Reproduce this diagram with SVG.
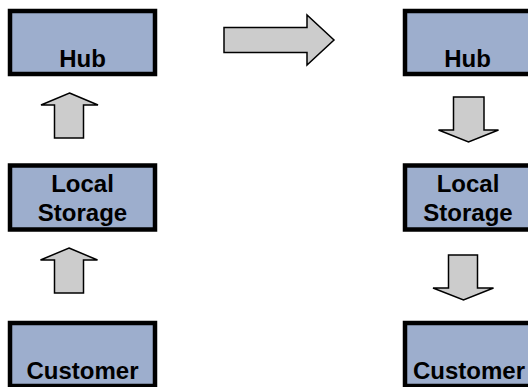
<svg xmlns="http://www.w3.org/2000/svg" width="528" height="387" viewBox="0 0 528 387">
<style>
.box{fill:#9DAECD;stroke:#000;stroke-width:4.5}
.arr{fill:#CCCCCC;stroke:#000;stroke-width:1.5;stroke-linejoin:miter}
.lbl{font-family:"Liberation Sans",Arial,sans-serif;font-weight:bold;font-size:24px;fill:#000;text-anchor:middle}
</style>
<rect width="528" height="387" fill="#fff"/>
<g id="hub-left"><rect class="box" x="10" y="11" width="145" height="63"/><text class="lbl" x="82.5" y="67">Hub</text></g>
<g id="local-left"><rect class="box" x="10" y="165.5" width="145" height="64"/><text class="lbl" x="82.5" y="192">Local</text><text class="lbl" x="82.5" y="221">Storage</text></g>
<g id="customer-left"><rect class="box" x="10" y="323" width="145" height="63"/><text class="lbl" x="82.5" y="379">Customer</text></g>
<g id="hub-right"><rect class="box" x="405" y="11" width="135" height="63"/><text class="lbl" x="467.5" y="67">Hub</text></g>
<g id="local-right"><rect class="box" x="405" y="165.5" width="135" height="64"/><text class="lbl" x="468" y="192">Local</text><text class="lbl" x="468" y="221">Storage</text></g>
<g id="customer-right"><rect class="box" x="405" y="323" width="135" height="63"/><text class="lbl" x="469" y="379">Customer</text></g>
<g id="connectors">
<polygon class="arr" points="69.5,93 98,105 83.5,105 83.5,138 54.5,138 54.5,105 41,105"/>
<polygon class="arr" points="69,248 97.5,260 83.5,260 83.5,293 54.5,293 54.5,260 40.5,260"/>
<polygon class="arr" points="224,27.5 307,27.5 307,15 334,40 307,65 307,52.5 224,52.5"/>
<polygon class="arr" points="453.5,97 484,97 484,130 498.5,130 468.5,142 438.5,130 453.5,130"/>
<polygon class="arr" points="448.5,255 477.5,255 477.5,288 493.5,288 463.5,300 433,288 448.5,288"/>
</g>
</svg>
